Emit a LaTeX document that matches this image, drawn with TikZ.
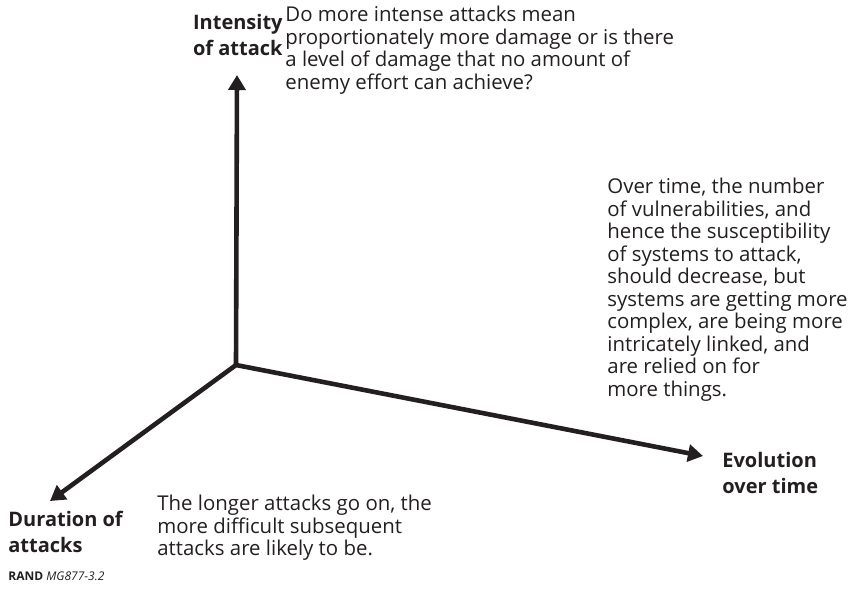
\documentclass[tikz,border=0pt]{standalone}
\usepackage{fontspec}
\setmainfont{Open Sans}
\usepackage{tikz}
\usetikzlibrary{arrows.meta}
\definecolor{inkgray}{HTML}{231F20}

\begin{document}
\begin{tikzpicture}[
    x=0.5pt, y=-0.5pt, % pixel grid of the figure
    axis/.style={-{Triangle[length=7.5pt,width=8.5pt]},line width=2.3pt,draw=inkgray},
    note/.style={anchor=north west,align=left,inner sep=0pt,text=inkgray,font=\fontsize{10.2}{11.25}\selectfont},
    axlabel/.style={inner sep=0pt,text=inkgray,font=\fontsize{10}{12.75}\selectfont\bfseries}
]
\useasboundingbox (0,0) rectangle (866,590);

% Axes
\coordinate (o) at (236,365);
\coordinate (up) at (237,75);
\coordinate (rt) at (703,456);
\coordinate (dn) at (50,501);

\draw[axis] (o) -- (up);
\draw[axis] (o) -- (rt);
\draw[axis] (o) -- (dn);

% Axis labels
\node[axlabel,anchor=north east,align=right] (lint) at (283,14) {Intensity\\of attack};
\node[axlabel,anchor=north west,align=left] (levo) at (722,452) {Evolution\\over time};
\node[axlabel,anchor=north west,align=left] (ldur) at (8,511) {Duration of\\attacks};

% Notes
\node[note] (nint) at (285,6) {Do more intense attacks mean\\proportionately more damage or is there\\a level of damage that no amount of\\enemy effort can achieve?};
\node[note] (nevo) at (607,178) {Over time, the number\\of vulnerabilities, and\\hence the susceptibility\\of systems to attack,\\should decrease, but\\systems are getting more\\complex, are being more\\intricately linked, and\\are relied on for\\more things.};
\node[note] (ndur) at (157,495) {The longer attacks go on, the\\more difficult subsequent\\attacks are likely to be.};

% Source
\node[note,font=\fontsize{6}{7}\selectfont] (src) at (8,571) {\textbf{RAND} \textit{MG877-3.2}};

\end{tikzpicture}
\end{document}
